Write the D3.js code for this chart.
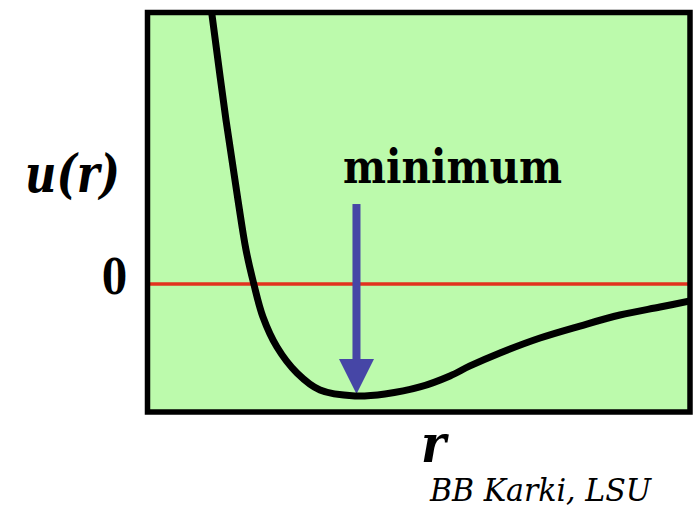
<!DOCTYPE html>
<html>
<head>
<meta charset="utf-8">
<script src="https://cdn.jsdelivr.net/npm/d3@7"></script>
<style>
  body { margin: 0; background: #fff; }
  svg { display: block; }
  .lbl { font-family: 'DejaVu Serif', serif; }
</style>
</head>
<body>
<svg id="chart" width="696" height="507"></svg>
<script>
// potential curve (r in arbitrary units, u in units of well depth)
var rVals = [0.446, 0.461, 0.565, 0.654, 0.714, 0.770, 0.840, 0.944, 1.093, 1.264, 1.524,
             1.747, 2.007, 2.230, 2.379, 2.602, 2.900, 3.197, 3.494, 3.792, 4.015]
var uVals = [2.582, 2.445, 1.491, 0.764, 0.309, 0.009, -0.30, -0.573, -0.809, -0.964, -1.018,
             -1.0, -0.936, -0.836, -0.745, -0.627, -0.491, -0.382, -0.282, -0.209, -0.155]
var zeroLabel = '0'
var yLabel = 'u(r)'
var xLabel = 'r'
var minLabel = 'minimum'
var credit = 'BB Karki, LSU'

var svg = d3.select('#chart'),
  box = {left: 147.5, top: 12.5, right: 690, bottom: 412}

var x = d3.scaleLinear().domain([0, 4]).range([150, 688])
var y = d3.scaleLinear().domain([-1, 2.5]).range([394, 9])

var data = rVals.map(function(r, i) { return {r: r, u: uVals[i]} })

svg.append('defs').append('clipPath').attr('id', 'plotClip')
  .append('rect')
  .attr('x', box.left).attr('y', box.top)
  .attr('width', box.right - box.left).attr('height', box.bottom - box.top)

// green plot area
svg.append('rect')
  .attr('x', box.left).attr('y', box.top)
  .attr('width', box.right - box.left).attr('height', box.bottom - box.top)
  .attr('fill', '#bcfaac')

var plot = svg.append('g').attr('clip-path', 'url(#plotClip)')

// zero line
plot.append('line')
  .attr('x1', box.left).attr('x2', box.right)
  .attr('y1', y(0)).attr('y2', y(0))
  .attr('stroke', '#e2321e')
  .attr('stroke-width', 3.5)

// arrow to the minimum
var minPt = data.reduce(function(a, b) { return b.u < a.u ? b : a })
var ax = x(minPt.r) + 1.5,
  tipY = y(minPt.u) - 2,
  topY = y(0.727),
  headLen = 35,
  headHalf = 17.5

plot.append('rect')
  .attr('x', ax - 4).attr('y', topY)
  .attr('width', 8).attr('height', tipY - headLen - topY + 1)
  .attr('fill', '#4646a6')

plot.append('path')
  .attr('d', 'M' + (ax - headHalf) + ',' + (tipY - headLen) +
    'L' + (ax + headHalf) + ',' + (tipY - headLen) +
    'L' + ax + ',' + tipY + 'Z')
  .attr('fill', '#4646a6')

// potential curve
var line = d3.line()
  .x(function(d) { return x(d.r) })
  .y(function(d) { return y(d.u) })
  .curve(d3.curveCatmullRom.alpha(0.5))

plot.append('path')
  .datum(data)
  .attr('d', line)
  .attr('fill', 'none')
  .attr('stroke', '#000')
  .attr('stroke-width', 7)
  .attr('stroke-linejoin', 'round')

// frame
svg.append('rect')
  .attr('x', box.left).attr('y', box.top)
  .attr('width', box.right - box.left).attr('height', box.bottom - box.top)
  .attr('fill', 'none')
  .attr('stroke', '#000')
  .attr('stroke-width', 5.5)

// labels: only DejaVu Serif gives a serif face here, so squeeze it to the Times widths
svg.append('text')
  .attr('class', 'lbl')
  .attr('x', 343).attr('y', 183)
  .attr('font-weight', 'bold')
  .attr('font-size', 47)
  .attr('textLength', 219)
  .attr('lengthAdjust', 'spacingAndGlyphs')
  .text(minLabel)

svg.append('text')
  .attr('class', 'lbl')
  .attr('x', 25).attr('y', 192)
  .attr('font-weight', 'bold')
  .attr('font-style', 'italic')
  .attr('font-size', 52)
  .attr('textLength', 95)
  .attr('lengthAdjust', 'spacingAndGlyphs')
  .text(yLabel)

svg.append('text')
  .attr('class', 'lbl')
  .attr('x', 102).attr('y', 294)
  .attr('font-weight', 'bold')
  .attr('font-size', 48)
  .attr('textLength', 25)
  .attr('lengthAdjust', 'spacingAndGlyphs')
  .text(zeroLabel)

svg.append('text')
  .attr('class', 'lbl')
  .attr('x', 421).attr('y', 462)
  .attr('font-weight', 'bold')
  .attr('font-style', 'italic')
  .attr('font-size', 52)
  .attr('textLength', 25)
  .attr('lengthAdjust', 'spacingAndGlyphs')
  .text(xLabel)

svg.append('text')
  .attr('class', 'lbl')
  .attr('x', 430).attr('y', 501)
  .attr('font-style', 'italic')
  .attr('font-size', 31)
  .attr('textLength', 221)
  .attr('lengthAdjust', 'spacingAndGlyphs')
  .text(credit)
</script>
</body>
</html>
